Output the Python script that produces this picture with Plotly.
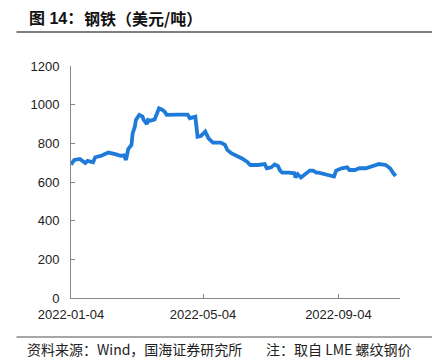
import plotly.graph_objects as go

dates = ["2022-01-04","2022-01-07","2022-01-12","2022-01-17","2022-01-19","2022-01-24","2022-01-26","2022-01-31",
         "2022-02-07","2022-02-11","2022-02-14","2022-02-18","2022-02-21","2022-02-23","2022-02-24","2022-02-25",
         "2022-02-28","2022-03-01","2022-03-03","2022-03-04","2022-03-07","2022-03-10","2022-03-11","2022-03-14",
         "2022-03-15","2022-03-17","2022-03-21","2022-03-23","2022-03-25","2022-03-28","2022-03-30","2022-04-01",
         "2022-04-04","2022-04-11","2022-04-20","2022-04-22","2022-04-27","2022-04-28","2022-04-29","2022-05-02",
         "2022-05-04","2022-05-06","2022-05-09","2022-05-12","2022-05-13","2022-05-18","2022-05-20","2022-05-24",
         "2022-05-26","2022-05-30","2022-06-03","2022-06-06","2022-06-08","2022-06-13","2022-06-16","2022-06-23",
         "2022-06-27","2022-06-29","2022-07-01","2022-07-05","2022-07-08","2022-07-11","2022-07-13","2022-07-15",
         "2022-07-21","2022-07-26","2022-07-27","2022-07-29","2022-08-01","2022-08-02","2022-08-05","2022-08-09",
         "2022-08-12","2022-08-15","2022-08-17","2022-08-23","2022-08-26","2022-08-31","2022-09-02","2022-09-05",
         "2022-09-07","2022-09-12","2022-09-14","2022-09-19","2022-09-23","2022-09-29","2022-10-04","2022-10-11",
         "2022-10-17","2022-10-21","2022-10-24","2022-10-26"]
prices = [690,714,719,698,709,702,728,735,
          752,748,743,735,738,714,757,770,
          792,852,886,921,947,938,921,900,
          921,917,924,950,981,973,964,947,
          946,948,948,930,938,869,834,838,
          852,861,826,809,804,804,804,792,
          766,748,738,728,723,705,688,688,
          693,693,671,676,691,683,659,648,
          648,645,623,640,623,628,645,659,
          659,648,648,640,634,628,659,667,
          671,676,662,662,671,671,680,693,
          688,671,645,631]

y_ticks = [0, 200, 400, 600, 800, 1000, 1200]
x_ticks = ["2022-01-04", "2022-05-04", "2022-09-04"]

title_num = "<b>图 14：</b>"
title_text = "<b>钢铁（美元/吨）</b>"
source_text = "资料来源：Wind，国海证券研究所"
note_text = "注：取自 LME 螺纹钢价"

FONT = "Liberation Sans, Arial, Noto Sans CJK SC, sans-serif"
CJK = "Noto Sans CJK SC, Liberation Sans, sans-serif"

W, H = 436, 363

def px(x):
    return x / W

def py(y):
    return 1 - y / H

fig = go.Figure()
fig.add_trace(go.Scatter(x=dates, y=prices, mode="lines",
                         line=dict(color="#1E7BD9", width=3.8), hoverinfo="skip"))

rule_top = dict(text="", xref="paper", yref="paper", x=px(432), y=py(32),
                ax=15 - 432, ay=0, axref="pixel", ayref="pixel",
                showarrow=True, arrowhead=0, arrowwidth=1.5, arrowcolor="#555555",
                standoff=0, startstandoff=0)
rule_bot = dict(text="", xref="paper", yref="paper", x=px(432), y=py(337),
                ax=15 - 432, ay=0, axref="pixel", ayref="pixel",
                showarrow=True, arrowhead=0, arrowwidth=1.5, arrowcolor="#8a8a8a",
                standoff=0, startstandoff=0)

fig.update_layout(
    width=W, height=H,
    margin=dict(l=0, r=0, t=0, b=0, autoexpand=False),
    paper_bgcolor="white", plot_bgcolor="white",
    showlegend=False,
    font=dict(family=FONT, color="#222222", size=13),
    xaxis=dict(type="date", range=["2022-01-04", "2022-10-30"],
               domain=[px(71), px(400)], automargin=False,
               tickvals=x_ticks, ticktext=x_ticks,
               showgrid=False, zeroline=False, showline=True,
               linecolor="#888888", linewidth=1,
               ticks="inside", ticklen=4, tickcolor="#888888",
               ticklabelstandoff=4, tickfont=dict(size=13)),
    yaxis=dict(range=[0, 1200], tickvals=y_ticks,
               domain=[py(298), py(66)], automargin=False,
               showgrid=False, zeroline=False, showline=True,
               linecolor="#888888", linewidth=1,
               ticks="inside", ticklen=4, tickcolor="#888888",
               ticklabelstandoff=8, tickfont=dict(size=13)),
    annotations=[
        rule_top, rule_bot,
        dict(text=title_num, xref="paper", yref="paper", x=px(27), y=py(18),
             xanchor="left", yanchor="middle", showarrow=False,
             font=dict(size=16, color="#111111", family=FONT)),
        dict(text=title_text, xref="paper", yref="paper", x=px(82), y=py(18),
             xanchor="left", yanchor="middle", showarrow=False,
             font=dict(size=16, color="#111111", family=CJK)),
        dict(text=source_text, xref="paper", yref="paper", x=px(25), y=py(349),
             xanchor="left", yanchor="middle", showarrow=False,
             font=dict(size=14, color="#222222", family=CJK)),
        dict(text=note_text, xref="paper", yref="paper", x=px(264), y=py(349),
             xanchor="left", yanchor="middle", showarrow=False,
             font=dict(size=14, color="#222222", family=CJK)),
    ],
)

fig.write_html("out.html", config={"displayModeBar": False},
               post_script="document.body.style.margin='0';document.body.style.overflow='hidden';")
